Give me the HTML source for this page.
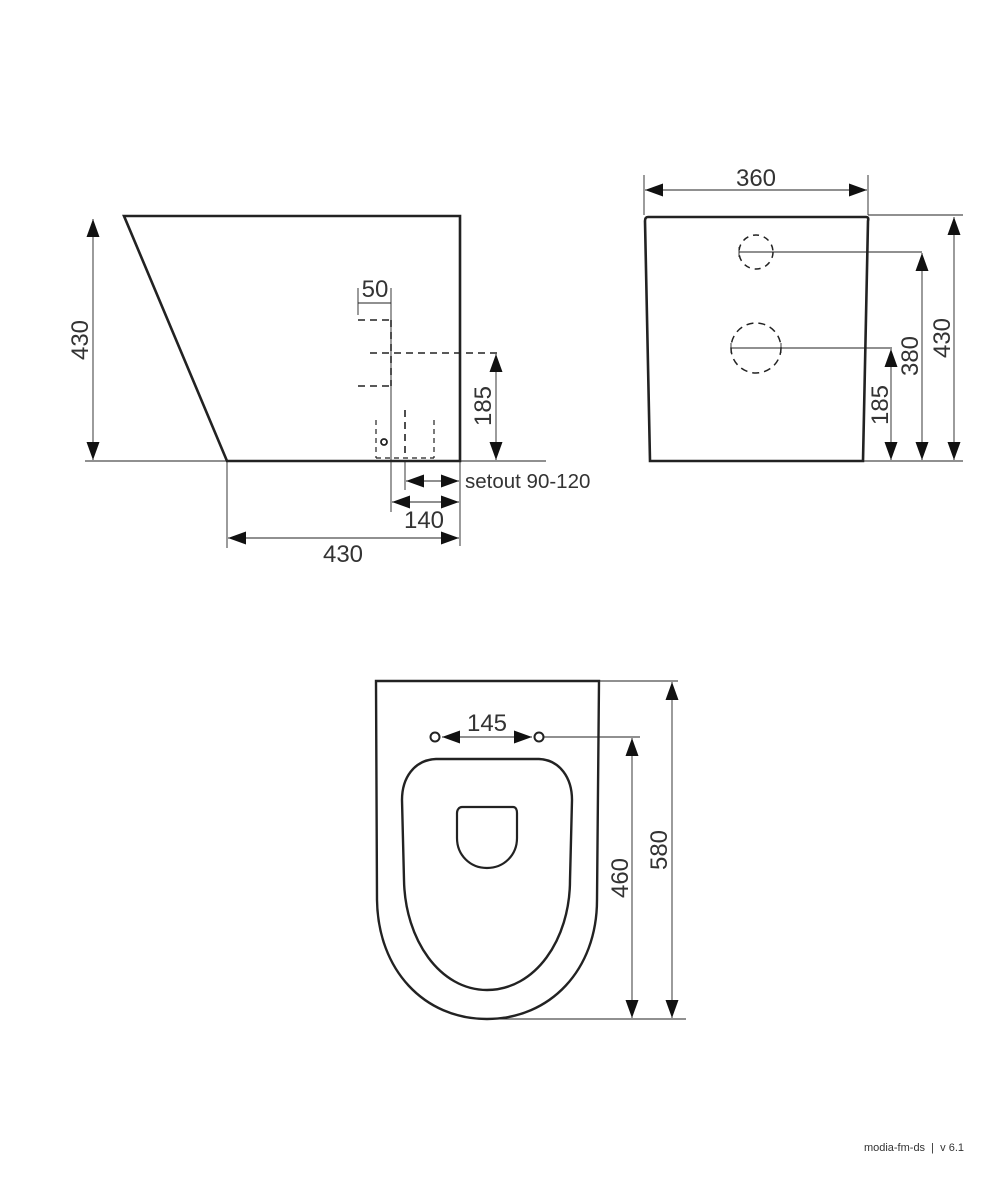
<!DOCTYPE html>
<html><head><meta charset="utf-8"><style>
html,body{margin:0;padding:0;background:#fff;}
svg{display:block;}
text{font-family:"Liberation Sans",sans-serif;fill:#333;}
</style></head><body>
<svg width="1005" height="1200" viewBox="0 0 1005 1200" xmlns="http://www.w3.org/2000/svg">
<defs>
<marker id="a" viewBox="0 0 18 13" refX="18" refY="6.5" markerWidth="18" markerHeight="13" markerUnits="userSpaceOnUse" orient="auto-start-reverse"><path d="M0,0 L18,6.5 L0,13 Z" fill="#111"/></marker>
</defs>
<g fill="none" stroke="#222">
<!-- Side view -->
<path d="M124,216 L460,216 L460,461 L227,461 Z" stroke-width="2.6" stroke-linejoin="miter"/>
<g stroke-width="0.9">
<line x1="85" y1="461" x2="546" y2="461"/>
<line x1="93" y1="219" x2="93" y2="460" marker-start="url(#a)" marker-end="url(#a)"/>
<line x1="358" y1="288" x2="358" y2="315"/>
<line x1="391" y1="288" x2="391" y2="512"/>
<line x1="358" y1="303" x2="391" y2="303"/>
<line x1="496" y1="354" x2="496" y2="460" marker-start="url(#a)" marker-end="url(#a)"/>
<line x1="405" y1="462" x2="405" y2="490"/>
<line x1="406" y1="481" x2="459" y2="481" marker-start="url(#a)" marker-end="url(#a)"/>
<line x1="392" y1="502" x2="459" y2="502" marker-start="url(#a)" marker-end="url(#a)"/>
<line x1="460" y1="462" x2="460" y2="546"/>
<line x1="227" y1="462" x2="227" y2="548"/>
<line x1="228" y1="538" x2="459" y2="538" marker-start="url(#a)" marker-end="url(#a)"/>
</g>
<g stroke-width="1.6" stroke-dasharray="7,5">
<line x1="391" y1="320" x2="391" y2="386"/>
<line x1="358" y1="320" x2="391" y2="320"/>
<line x1="358" y1="386" x2="391" y2="386"/>
<line x1="370" y1="353" x2="500" y2="353"/>
<line x1="376" y1="420" x2="376" y2="458" stroke-width="1.2" stroke-dasharray="5,4"/>
<line x1="405" y1="410" x2="405" y2="458"/>
<line x1="434" y1="420" x2="434" y2="458" stroke-width="1.2" stroke-dasharray="5,4"/>
<line x1="376" y1="458" x2="434" y2="458" stroke-width="1.2" stroke-dasharray="5,4"/>
</g>
<circle cx="384" cy="442" r="3" stroke-width="1.8"/>
<!-- Front view -->
<path d="M648,217 L866,217 Q869,217 868,221 L863,461 L650,461 L645,221 Q645,217 648,217 Z" stroke-width="2.6"/>
<g stroke-width="0.9">
<line x1="644" y1="175" x2="644" y2="215"/>
<line x1="868" y1="175" x2="868" y2="215"/>
<line x1="645" y1="190" x2="867" y2="190" marker-start="url(#a)" marker-end="url(#a)"/>
<line x1="868" y1="215" x2="963" y2="215"/>
<line x1="739" y1="252" x2="922" y2="252"/>
<line x1="739" y1="247" x2="739" y2="257"/>
<line x1="731" y1="348" x2="892" y2="348"/>
<line x1="731" y1="343" x2="731" y2="353"/>
<line x1="781" y1="343" x2="781" y2="353"/>
<line x1="863" y1="461" x2="963" y2="461"/>
<line x1="891" y1="349" x2="891" y2="460" marker-start="url(#a)" marker-end="url(#a)"/>
<line x1="922" y1="253" x2="922" y2="460" marker-start="url(#a)" marker-end="url(#a)"/>
<line x1="954" y1="217" x2="954" y2="460" marker-start="url(#a)" marker-end="url(#a)"/>
</g>
<circle cx="756" cy="252" r="17" stroke-width="1.5" stroke-dasharray="6,5"/>
<circle cx="756" cy="348" r="25" stroke-width="1.5" stroke-dasharray="7,5"/>
<!-- Top view -->
<path d="M376,681 L599,681 L597,900 C597,970 550,1019 487,1019 C424,1019 378,970 377,900 Z" stroke-width="2.4"/>
<path d="M436,759 L539,759 C560,760 572,778 572,800 L570,880 C570,940 535,990 487,990 C440,990 405,940 404,880 L402,800 C402,778 414,760 436,759 Z" stroke-width="2.4"/>
<path d="M462,807 L513,807 C516,807 517,810 517,813 L517,838 C517,855 504,868 487,868 C470,868 457,855 457,838 L457,813 C457,810 459,807 462,807 Z" stroke-width="2.2"/>
<circle cx="435" cy="737" r="4.5" stroke-width="2"/>
<circle cx="539" cy="737" r="4.5" stroke-width="2"/>
<g stroke-width="0.9">
<line x1="442" y1="737" x2="532" y2="737" marker-start="url(#a)" marker-end="url(#a)"/>
<line x1="544" y1="737" x2="640" y2="737"/>
<line x1="599" y1="681" x2="678" y2="681"/>
<line x1="490" y1="1019" x2="686" y2="1019"/>
<line x1="632" y1="738" x2="632" y2="1018" marker-start="url(#a)" marker-end="url(#a)"/>
<line x1="672" y1="682" x2="672" y2="1018" marker-start="url(#a)" marker-end="url(#a)"/>
</g>
</g>
<g font-size="24">
<text x="88" y="340" text-anchor="middle" transform="rotate(-90 88 340)">430</text>
<text x="375" y="297" text-anchor="middle">50</text>
<text x="491" y="406" text-anchor="middle" transform="rotate(-90 491 406)">185</text>
<text x="465" y="488" font-size="20.5">setout 90-120</text>
<text x="424" y="528" text-anchor="middle">140</text>
<text x="343" y="562" text-anchor="middle">430</text>
<text x="756" y="186" text-anchor="middle">360</text>
<text x="888" y="405" text-anchor="middle" transform="rotate(-90 888 405)">185</text>
<text x="918" y="356" text-anchor="middle" transform="rotate(-90 918 356)">380</text>
<text x="950" y="338" text-anchor="middle" transform="rotate(-90 950 338)">430</text>
<text x="487" y="731" text-anchor="middle">145</text>
<text x="628" y="878" text-anchor="middle" transform="rotate(-90 628 878)">460</text>
<text x="667" y="850" text-anchor="middle" transform="rotate(-90 667 850)">580</text>
</g>
<text x="964" y="1151" text-anchor="end" font-size="11" xml:space="preserve">modia-fm-ds  |  v 6.1</text>
</svg>
</body></html>
